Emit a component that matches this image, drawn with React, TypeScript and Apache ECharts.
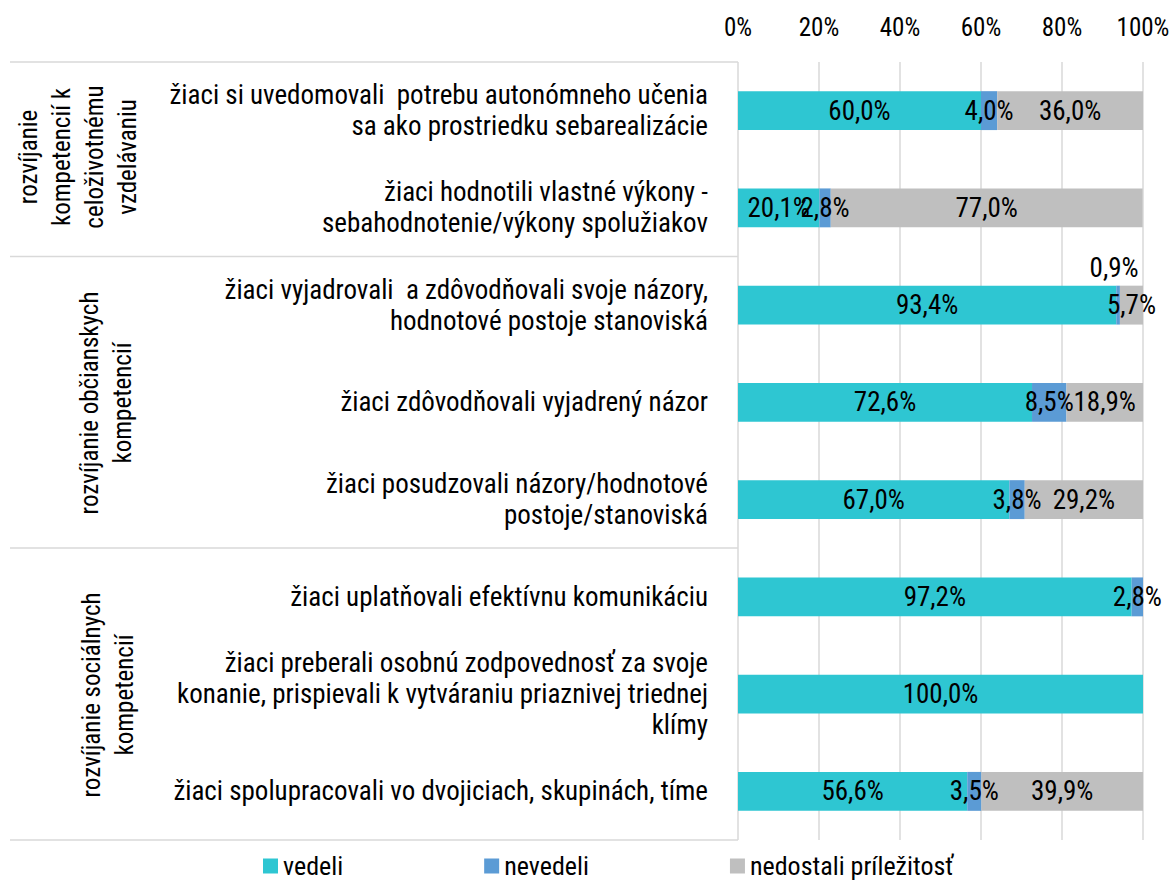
import React, { useEffect, useRef } from "react";
import * as echarts from "echarts";

const categories = [
  "žiaci si uvedomovali  potrebu autonómneho učenia\nsa ako prostriedku sebarealizácie",
  "žiaci hodnotili vlastné výkony -\nsebahodnotenie/výkony spolužiakov",
  "žiaci vyjadrovali  a zdôvodňovali svoje názory,\nhodnotové postoje stanoviská",
  "žiaci zdôvodňovali vyjadrený názor",
  "žiaci posudzovali názory/hodnotové\npostoje/stanoviská",
  "žiaci uplatňovali efektívnu komunikáciu",
  "žiaci preberali osobnú zodpovednosť za svoje\nkonanie, prispievali k vytváraniu priaznivej triednej\nklímy",
  "žiaci spolupracovali vo dvojiciach, skupinách, tíme",
];

const vedeli = [60.0, 20.1, 93.4, 72.6, 67.0, 97.2, 100.0, 56.6];
const nevedeli = [4.0, 2.8, 0.9, 8.5, 3.8, 2.8, 0, 3.5];
const nedostali = [36.0, 77.0, 5.7, 18.9, 29.2, 0, 0, 39.9];

const seriesNames = ["vedeli", "nevedeli", "nedostali príležitosť"];
const groupLabels = [
  "rozvíjanie\nkompetencií k\nceloživotnému\nvzdelávaniu",
  "rozvíjanie občianskych\nkompetencií",
  "rozvíjanie sociálnych\nkompetencií",
];

const FONT = "'Roboto Condensed', 'Liberation Sans Narrow', Roboto, sans-serif";
const FS = 27;
const AXIS_FS = 25;
const GROUP_FS = 25;
const LEGEND_FS = 26;
const COLORS = ["#2EC6D2", "#5B9BD5", "#BFBFBF"];

const fmt = (v: number) => v.toFixed(1).replace(".", ",") + "%";

export default function App() {
  const ref = useRef<HTMLDivElement>(null);
  useEffect(() => {
    if (!ref.current) return;
    const chart = echarts.init(ref.current, null, { renderer: "svg" });
    const mkData = (arr: number[], si: number) =>
      arr.map((v, i) => {
        const item: any = { value: v };
        if (v === 0) item.label = { show: false };
        if (si === 1 && i === 2) item.label = { show: true, position: "top", distance: 4, offset: [-4, 0] };
        return item;
      });
    const lineStyle = { stroke: "#D9D9D9", lineWidth: 1.5 };
    const groupText = (text: string, x: number, y: number) => ({
      type: "text",
      x,
      y,
      rotation: Math.PI / 2,
      silent: true,
      style: { text, fontSize: GROUP_FS, fontFamily: FONT, fill: "#000", align: "center", verticalAlign: "middle", lineHeight: 33 },
    });
    chart.setOption({
      animation: false,
      textStyle: { fontFamily: FONT },
      grid: { left: 738, right: 31, top: 62, bottom: 43, containLabel: false },
      xAxis: {
        type: "value",
        position: "top",
        min: 0,
        max: 100,
        interval: 20,
        axisLine: { show: false },
        axisTick: { show: false },
        axisLabel: { formatter: "{value}%", fontSize: AXIS_FS, color: "#000", fontFamily: FONT, margin: 22 },
        splitLine: { show: true, lineStyle: { color: "#D9D9D9", width: 1.5 } },
      },
      yAxis: {
        type: "category",
        inverse: true,
        data: categories,
        axisLine: { show: false },
        axisTick: { show: false },
        axisLabel: { fontSize: FS, color: "#000", fontFamily: FONT, margin: 30, lineHeight: 31, align: "right" },
      },
      legend: {
        left: 263,
        top: 853,
        padding: 0,
        itemWidth: 15,
        itemHeight: 15,
        itemGap: 141,
        icon: "rect",
        textStyle: { fontSize: LEGEND_FS, color: "#000", fontFamily: FONT },
        data: seriesNames,
      },
      series: [vedeli, nevedeli, nedostali].map((arr, si) => ({
        name: seriesNames[si],
        type: "bar",
        stack: "total",
        barWidth: "40%",
        itemStyle: { color: COLORS[si] },
        label: {
          show: true,
          position: "inside",
          color: "#000",
          fontSize: FS,
          fontFamily: FONT,
          formatter: (p: any) => fmt(p.value),
        },
        data: mkData(arr, si),
      })),
      graphic: [
        { type: "line", shape: { x1: 10, y1: 62, x2: 738, y2: 62 }, style: lineStyle, silent: true },
        { type: "line", shape: { x1: 10, y1: 256.5, x2: 738, y2: 256.5 }, style: lineStyle, silent: true },
        { type: "line", shape: { x1: 10, y1: 548, x2: 738, y2: 548 }, style: lineStyle, silent: true },
        { type: "line", shape: { x1: 10, y1: 840, x2: 738, y2: 840 }, style: lineStyle, silent: true },
        groupText(groupLabels[0], 78, 157),
        groupText(groupLabels[1], 106, 403),
        groupText(groupLabels[2], 108, 695),
      ],
    });
    return () => chart.dispose();
  }, []);
  return <div ref={ref} style={{ position: "absolute", left: 0, top: 0, width: 1174, height: 883 }} />;
}
